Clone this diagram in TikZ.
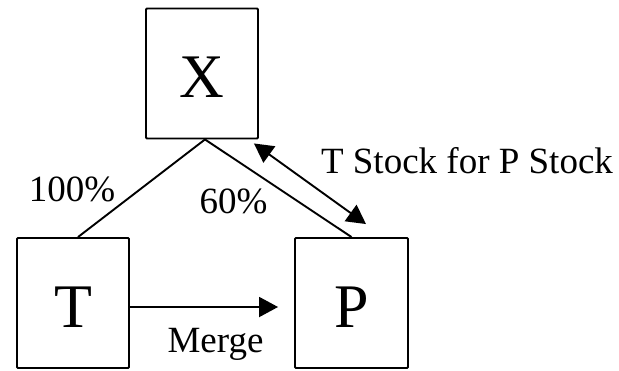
\documentclass[tikz,border=0pt]{standalone}
\usepackage{fontspec}
\setmainfont{Liberation Serif}
\usetikzlibrary{arrows.meta,calc}
\begin{document}
\begin{tikzpicture}[x=1pt,y=-1pt,
  entity/.style={draw, line width=1.9pt, rounded corners=1pt, inner sep=0pt,
    minimum width=112pt, minimum height=130pt,
    font=\fontsize{62}{62}\selectfont, text height=48pt, text depth=0pt},
  link/.style={line width=1.9pt},
  arr/.style={line width=1.9pt, -{Triangle[length=19pt,width=20pt]}},
  dblarr/.style={line width=1.9pt, {Triangle[length=19pt,width=20pt]}-{Triangle[length=19pt,width=20pt]}},
  lbl/.style={font=\fontsize{37}{37}\selectfont, anchor=base, inner sep=0pt}]
\useasboundingbox (0,0) rectangle (619,370);
\node[entity] (X) at (202,73.5) {X};
\node[entity] (T) at (73,303) {T};
\node[entity, minimum width=113pt] (P) at (351.5,303) {P};
\draw[link] ($(X.south)+(3,0)$) -- ($(T.north)+(5,0)$);
\draw[link] ($(X.south)+(3,0)$) -- (P.north);
\draw[dblarr] ($(X.south east)+(-5,4)$) -- ($(P.north)+(14.5,-13)$);
\draw[arr] ($(T.east)+(0,4)$) -- ($(P.west)+(-16,4)$);
\node[lbl] (l100) at (72,201) {100\%};
\node[lbl] (l60) at (233.5,213) {60\%};
\node[lbl] (lstock) at (467,173) {T Stock for P Stock};
\node[lbl] (lmerge) at (215.5,352) {Merge};
\end{tikzpicture}
\end{document}
